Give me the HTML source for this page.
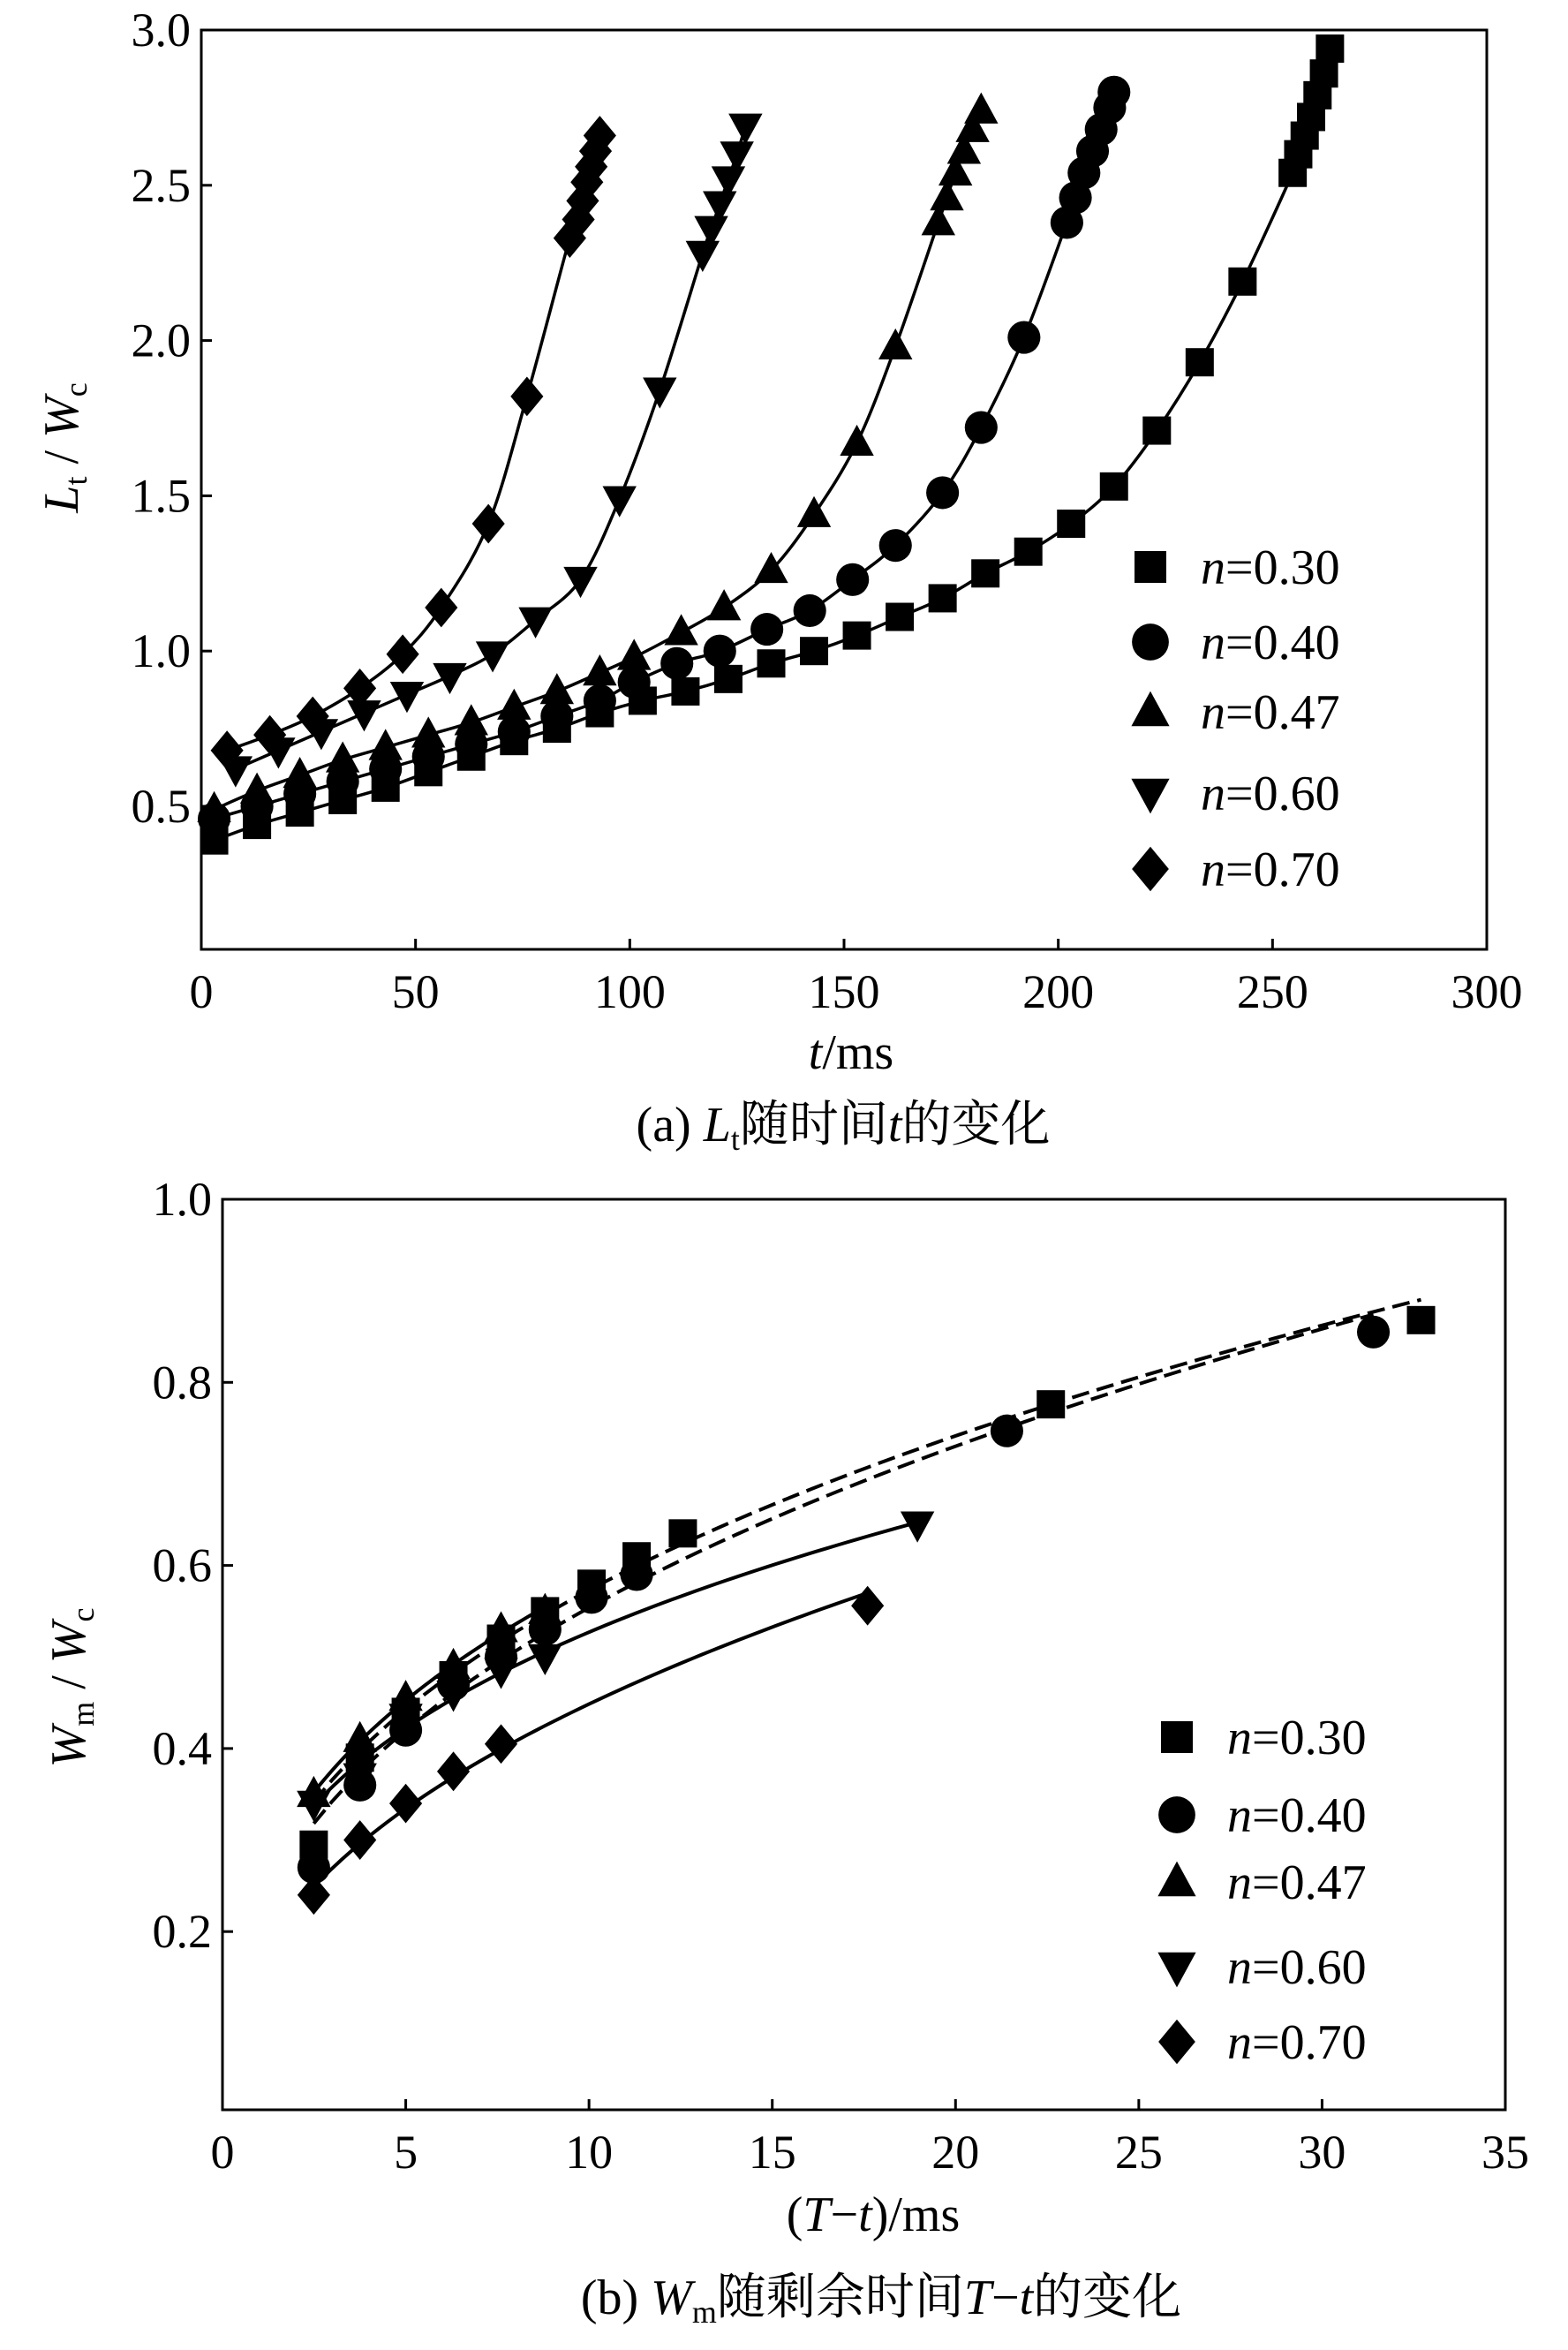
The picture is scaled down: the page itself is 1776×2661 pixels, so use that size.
<!DOCTYPE html>
<html><head><meta charset="utf-8">
<style>
html,body{margin:0;padding:0;background:#fff;}
svg{display:block;font-family:"Liberation Serif","Noto Serif CJK SC",serif;}
</style></head>
<body>
<svg id="chart" width="1776" height="2661" viewBox="0 0 1776 2661" xmlns="http://www.w3.org/2000/svg"></svg>
<script>
// ---- Panel (a) data ----
const aSeriesNames = ["n=0.30","n=0.40","n=0.47","n=0.60","n=0.70"];
const aT030 = [3,13,23,33,43,53,63,73,83,93,103,113,123,133,143,153,163,173,183,193,203,213,223,233,243,254.7,256,257.5,259,260.5,262,263.4];
const aV030 = [0.39,0.44,0.48,0.52,0.56,0.61,0.66,0.71,0.75,0.80,0.84,0.87,0.91,0.96,1.00,1.05,1.11,1.17,1.25,1.32,1.41,1.53,1.71,1.93,2.19,2.54,2.60,2.66,2.72,2.79,2.86,2.94];
const aT040 = [3,13,23,33,43,53,63,73,83,93,101,111,121,132,142,152,162,173,182,192,202,204,206,208,210,212,213];
const aV040 = [0.46,0.50,0.54,0.58,0.62,0.66,0.70,0.74,0.79,0.84,0.90,0.96,1.00,1.07,1.13,1.23,1.34,1.51,1.72,2.01,2.38,2.46,2.54,2.61,2.68,2.75,2.80];
const aT047 = [3,13,23,33,43,53,63,73,83,93,101,112,122,133,143,153,162,172,174,176,178,180,182];
const aV047 = [0.49,0.55,0.60,0.65,0.69,0.73,0.77,0.82,0.87,0.93,0.98,1.06,1.14,1.26,1.44,1.67,1.98,2.38,2.46,2.54,2.61,2.68,2.74];
const aT060 = [8,18,28,38,48,58,68,78,88.5,97.6,107,117,119,121,123,125,127];
const aV060 = [0.62,0.68,0.74,0.80,0.86,0.92,0.99,1.10,1.23,1.49,1.84,2.28,2.36,2.44,2.52,2.60,2.69];
const aT070 = [6,16,26,37,47,56,67,76,86,88,89,90,91,92,93];
const aV070 = [0.68,0.73,0.79,0.88,0.99,1.14,1.41,1.82,2.33,2.39,2.45,2.51,2.56,2.61,2.66];
const aXTicks = [0,50,100,150,200,250,300];
const aYTicks = [0.5,1.0,1.5,2.0,2.5,3.0];

// ---- Panel (b) data ----
const bX030 = [2.49,3.75,5.0,6.3,7.6,8.8,10.07,11.3,12.56,22.6,32.7];
const bV030 = [0.295,0.39,0.44,0.48,0.52,0.55,0.58,0.61,0.635,0.776,0.868];
const bX040 = [2.49,3.75,5.0,6.3,7.6,8.8,10.07,11.3,21.4,31.4];
const bV040 = [0.27,0.36,0.42,0.47,0.50,0.53,0.565,0.59,0.747,0.855];
const bX047 = [2.49,3.75,5.0,6.3,7.6,8.8];
const bV047 = [0.35,0.41,0.455,0.49,0.53,0.55];
const bX060 = [2.49,3.75,5.0,6.3,7.6,8.8,18.96];
const bV060 = [0.34,0.37,0.435,0.46,0.485,0.50,0.645];
const bX070 = [2.49,3.75,5.0,6.3,7.6,17.6];
const bV070 = [0.24,0.30,0.34,0.375,0.405,0.556];
const bXTicks = [0,5,10,15,20,25,30,35];
const bYTicks = [0.2,0.4,0.6,0.8,1.0];

const NS="http://www.w3.org/2000/svg";
const svg=document.getElementById('chart');
function mk(tag,attrs,parent){const e=document.createElementNS(NS,tag);for(const k in attrs)e.setAttribute(k,attrs[k]);(parent||svg).appendChild(e);return e;}

const ax={x:t=>228+t/300*1456, y:v=>34+(3-v)*351.6, left:228,right:1684,top:34,bottom:1075};
const bx={x:t=>252+t/35*1453, y:v=>1358+(1-v)*1036.5, left:252,right:1705,top:1358,bottom:2389};

function marker(g,shape,cx,cy,s){
  let el;
  if(shape==='sq') el=mk('rect',{x:cx-s/2,y:cy-s/2,width:s,height:s,fill:'#000'},g);
  else if(shape==='ci') el=mk('circle',{cx:cx,cy:cy,r:s*0.58,fill:'#000'},g);
  else if(shape==='up') el=mk('polygon',{points:`${cx},${cy-s*0.65} ${cx-s*0.6},${cy+s*0.45} ${cx+s*0.6},${cy+s*0.45}`,fill:'#000'},g);
  else if(shape==='dn') el=mk('polygon',{points:`${cx},${cy+s*0.65} ${cx-s*0.6},${cy-s*0.45} ${cx+s*0.6},${cy-s*0.45}`,fill:'#000'},g);
  else el=mk('polygon',{points:`${cx},${cy-s*0.7} ${cx+s*0.58},${cy} ${cx},${cy+s*0.7} ${cx-s*0.58},${cy}`,fill:'#000'},g);
  return el;
}
function smoothPath(pts){
  let d=`M${pts[0][0]},${pts[0][1]}`;
  for(let i=0;i<pts.length-1;i++){
    const p0=pts[Math.max(0,i-1)],p1=pts[i],p2=pts[i+1],p3=pts[Math.min(pts.length-1,i+2)];
    const c1=[p1[0]+(p2[0]-p0[0])/6,p1[1]+(p2[1]-p0[1])/6];
    const c2=[p2[0]-(p3[0]-p1[0])/6,p2[1]-(p3[1]-p1[1])/6];
    d+=` C${c1[0]},${c1[1]} ${c2[0]},${c2[1]} ${p2[0]},${p2[1]}`;
  }
  return d;
}
function text(str,x,y,size,opts,parent){
  const t=mk('text',Object.assign({x:x,y:y,'font-size':size,fill:'#000'},opts||{}),parent);
  t.textContent=str;return t;
}
function frame(A,xt,yt,name){
  const g=mk('g',{});
  
  
  const r=mk('rect',{x:A.left,y:A.top,width:A.right-A.left,height:A.bottom-A.top,fill:'none',stroke:'#000','stroke-width':3},g);
  
  
  xt.forEach(t=>{
    const X=A.x(t);
    mk('line',{x1:X,y1:A.bottom,x2:X,y2:A.bottom-12,stroke:'#000','stroke-width':3},g);
    const l=text(String(t),X,A.bottom+66,54,{'text-anchor':'middle'},g);
    
    
  });
  yt.forEach(v=>{
    const Y=A.y(v);
    mk('line',{x1:A.left,y1:Y,x2:A.left+12,y2:Y,stroke:'#000','stroke-width':3},g);
    const l=text(v.toFixed(1),A.left-12,Y+18,54,{'text-anchor':'end'},g);
    
    
  });
}

// ---------- Panel (a) ----------
frame(ax,aXTicks,aYTicks,'panel-a');
const aSeries=[[aT030,aV030,'sq'],[aT040,aV040,'ci'],[aT047,aV047,'up'],[aT060,aV060,'dn'],[aT070,aV070,'di']];
aSeries.forEach((s,i)=>{
  const g=mk('g',{});
  
  
  const pts=s[0].map((t,j)=>[ax.x(t),ax.y(s[1][j])]);
  const p=mk('path',{d:smoothPath(pts),fill:'none',stroke:'#000','stroke-width':3.5},g);
  
  
  pts.forEach(q=>{
    const m=marker(g,s[2],q[0],q[1],32);
    
    
  });
});
const legA=mk('g',{});


const legRowsA=[642,727,806,898,984];
['sq','ci','up','dn','di'].forEach((sh,i)=>{
  const y=legRowsA[i];
  const m=marker(legA,sh,1303,y,36);
  
  
  const t=mk('text',{x:1360,y:y+19,'font-size':56,fill:'#000'},legA);
  
  
  t.innerHTML='<tspan font-style="italic">n</tspan>'+aSeriesNames[i].slice(1);
});
const yla=mk('text',{transform:'translate(88,507) rotate(-90)','text-anchor':'middle','font-size':56,fill:'#000'});


yla.innerHTML='<tspan font-style="italic">L</tspan><tspan font-size="36" dy="10">t</tspan><tspan dy="-10"> / </tspan><tspan font-style="italic">W</tspan><tspan font-size="36" dy="10">c</tspan>';
const xla=mk('text',{x:964,y:1210,'text-anchor':'middle','font-size':56,fill:'#000'});


xla.innerHTML='<tspan font-style="italic">t</tspan>/ms';
const capa=mk('text',{x:955,y:1292,'text-anchor':'middle','font-size':56,fill:'#000'});


capa.innerHTML='(a) <tspan font-style="italic">L</tspan><tspan font-size="36" dy="10">t</tspan><tspan dy="-10">随时间</tspan><tspan font-style="italic">t</tspan>的变化';

// ---------- Panel (b) ----------
frame(bx,bXTicks,bYTicks,'panel-b');
const bSeries=[[bX030,bV030,'sq',true],[bX040,bV040,'ci',true],[bX047,bV047,'up',false],[bX060,bV060,'dn',false],[bX070,bV070,'di',false]];
bSeries.forEach((s,i)=>{
  const g=mk('g',{});
  
  
  const xs=s[0],vs=s[1];
  // power-law least squares fit in log space (dashed fits skip the first, outlying point)
  const st=s[3]?1:0;
  let n=0,sx=0,sy=0,sxx=0,sxy=0;
  for(let j=st;j<xs.length;j++){const lx=Math.log(xs[j]),ly=Math.log(vs[j]);n++;sx+=lx;sy+=ly;sxx+=lx*lx;sxy+=lx*ly;}
  const b=(n*sxy-sx*sy)/(n*sxx-sx*sx), a=Math.exp((sy-b*sx)/n);
  const x0=xs[0], x1=xs[xs.length-1];
  const pts=[];
  for(let k=0;k<=60;k++){const x=x0+(x1-x0)*k/60;pts.push([bx.x(x),bx.y(a*Math.pow(x,b))]);}
  const p=mk('path',{d:'M'+pts.map(q=>q.join(',')).join(' L'),fill:'none',stroke:'#000','stroke-width':4,'stroke-dasharray':s[3]?'20,9':'none'},g);
  
  
  xs.forEach((x,j)=>{
    const m=marker(g,s[2],bx.x(x),bx.y(vs[j]),32);
    
    
  });
});
const legB=mk('g',{});


const legRowsB=[1967,2055,2131,2227,2312];
['sq','ci','up','dn','di'].forEach((sh,i)=>{
  const y=legRowsB[i];
  const m=marker(legB,sh,1333,y,36);
  
  
  const t=mk('text',{x:1390,y:y+19,'font-size':56,fill:'#000'},legB);
  
  
  t.innerHTML='<tspan font-style="italic">n</tspan>'+aSeriesNames[i].slice(1);
});
const ylb=mk('text',{transform:'translate(96,1911) rotate(-90)','text-anchor':'middle','font-size':56,fill:'#000'});


ylb.innerHTML='<tspan font-style="italic">W</tspan><tspan font-size="36" dy="10">m</tspan><tspan dy="-10"> / </tspan><tspan font-style="italic">W</tspan><tspan font-size="36" dy="10">c</tspan>';
const xlb=mk('text',{x:989,y:2526,'text-anchor':'middle','font-size':56,fill:'#000'});


xlb.innerHTML='(<tspan font-style="italic">T</tspan>−<tspan font-style="italic">t</tspan>)/ms';
const capb=mk('text',{x:998,y:2620,'text-anchor':'middle','font-size':56,fill:'#000'});


capb.innerHTML='(b) <tspan font-style="italic">W</tspan><tspan font-size="36" dy="10">m</tspan><tspan dy="-10">随剩余时间</tspan><tspan font-style="italic">T</tspan>−<tspan font-style="italic">t</tspan>的变化';
</script>
</body></html>
